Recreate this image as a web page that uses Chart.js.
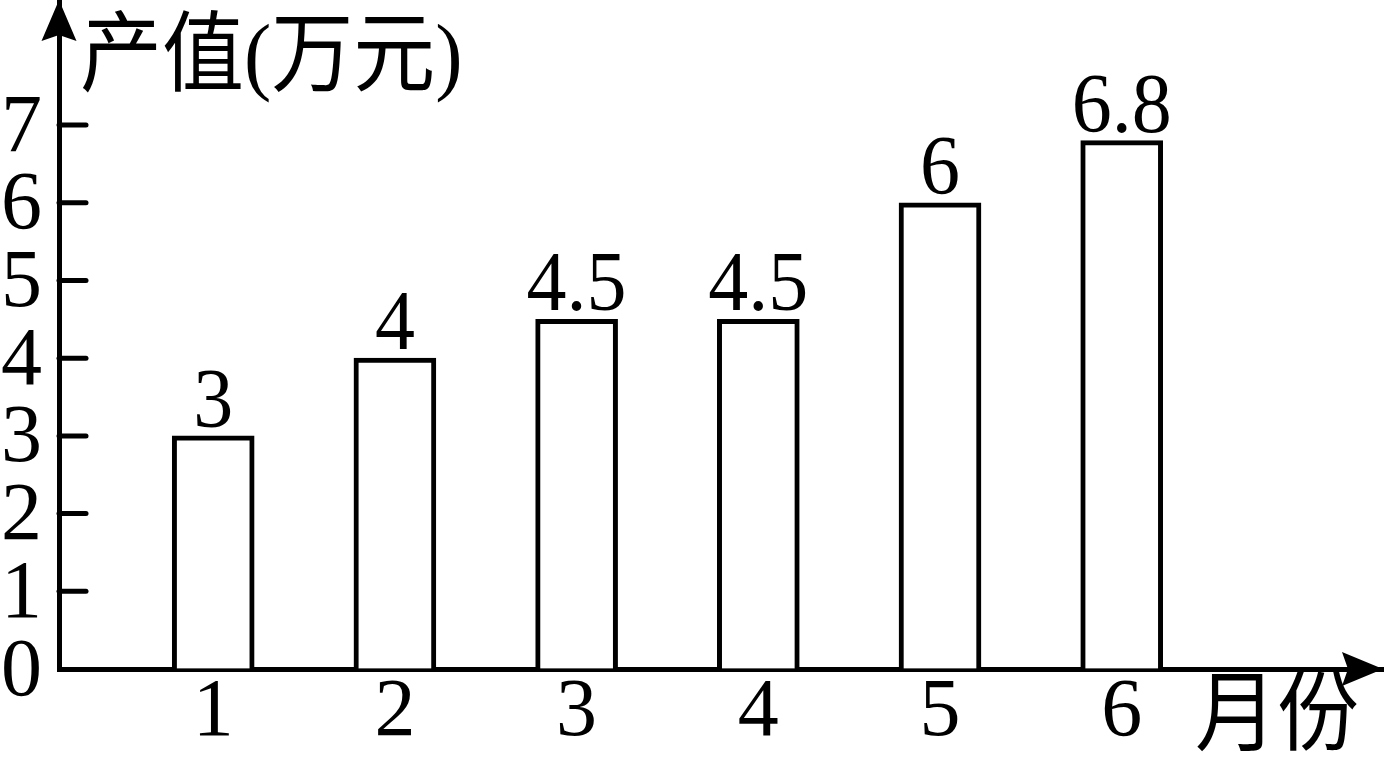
<!DOCTYPE html>
<html><head><meta charset="utf-8">
<script src="https://cdn.jsdelivr.net/npm/chart.js@4.4.0/dist/chart.umd.min.js"></script>
<style>html,body{margin:0;padding:0;background:#fff;overflow:hidden} canvas{display:block}</style>
</head><body>
<canvas id="c" width="1384" height="769"></canvas>
<script>
// ---- data ----
const months = [1, 2, 3, 4, 5, 6];
const monthLabels = ['1', '2', '3', '4', '5', '6'];
const values = [3, 4, 4.5, 4.5, 6, 6.8];
const valueLabels = ['3', '4', '4.5', '4.5', '6', '6.8'];
const yTicks = [0, 1, 2, 3, 4, 5, 6, 7];
const yTitle = '产值(万元)';
const xTitle = '月份';

const DIGIT_FONT = '"Liberation Serif", "Times New Roman", serif';
const CJK_FONT = '"Liberation Serif", "Noto Sans CJK SC", serif';
const STRETCH = 1.07;

function stretchedText(ctx, text, x, y) {
  ctx.save();
  ctx.translate(x, y);
  ctx.scale(1, STRETCH);
  ctx.fillText(text, 0, 0);
  ctx.restore();
}

const decor = {
  id: 'decor',
  afterDatasetsDraw(chart) {
    const ctx = chart.ctx;
    const meta = chart.getDatasetMeta(0);
    ctx.save();
    ctx.fillStyle = '#000';
    ctx.font = '80px ' + DIGIT_FONT;
    ctx.textAlign = 'center';
    ctx.textBaseline = 'alphabetic';
    meta.data.forEach((bar, i) => {
      stretchedText(ctx, valueLabels[i], bar.x, bar.y - 9);
    });
    ctx.restore();
  },
  afterDraw(chart) {
    const ctx = chart.ctx;
    const a = chart.chartArea;
    const ys = chart.scales.y;
    ctx.save();
    ctx.strokeStyle = '#000';
    ctx.fillStyle = '#000';
    // y tick marks (inside)
    ctx.lineWidth = 5;
    ctx.lineCap = 'round';
    ys.ticks.forEach(t => {
      if (t.value === 0) return;
      const py = ys.getPixelForValue(t.value);
      ctx.beginPath();
      ctx.moveTo(a.left, py);
      ctx.lineTo(a.left + 27, py);
      ctx.stroke();
    });
    // y arrow
    const tx = a.left, ty = a.top - 2;
    ctx.beginPath();
    ctx.moveTo(tx, ty);
    ctx.lineTo(tx + 17.5, ty + 41);
    ctx.lineTo(tx, ty + 35);
    ctx.lineTo(tx - 17.5, ty + 41);
    ctx.closePath();
    ctx.fill();
    // x arrow
    const ax = a.right, ay = a.bottom;
    ctx.beginPath();
    ctx.moveTo(ax, ay);
    ctx.lineTo(ax - 41, ay - 17);
    ctx.lineTo(ax - 35, ay);
    ctx.lineTo(ax - 41, ay + 17);
    ctx.closePath();
    ctx.fill();
    // titles
    ctx.font = '82px ' + CJK_FONT;
    ctx.textBaseline = 'middle';
    ctx.textAlign = 'left';
    stretchedText(ctx, yTitle, 80, 61);
    stretchedText(ctx, xTitle, 1195, 720);
    ctx.restore();
  }
};

new Chart(document.getElementById('c'), {
  type: 'bar',
  data: {
    datasets: [{
      data: months.map((m, i) => ({ x: m, y: values[i] })),
      backgroundColor: '#fff',
      borderColor: '#000',
      borderWidth: 5,
      barThickness: 82
    }]
  },
  options: {
    responsive: false,
    animation: false,
    layout: { padding: { left: 0, top: 2, right: 1, bottom: 0 } },
    plugins: { legend: { display: false }, tooltip: { enabled: false } },
    scales: {
      x: {
        type: 'linear',
        offset: false,
        min: 0.1513,
        max: 7.438,
        grid: { drawOnChartArea: false, drawTicks: false, offset: false },
        border: { display: true, color: '#000', width: 5 },
        ticks: {
          includeBounds: false,
          color: '#000',
          padding: 3,
          maxRotation: 0,
          autoSkip: false,
          font: { family: DIGIT_FONT, size: 82, lineHeight: 1 },
          callback: (v) => { const i = months.indexOf(v); return i >= 0 ? monthLabels[i] : ''; }
        },
        afterBuildTicks: (s) => { s.ticks = months.map(m => ({ value: m })); },
        afterFit: (s) => { s.height = 100; s.paddingLeft = 0; s.paddingRight = 0; }
      },
      y: {
        type: 'linear',
        min: 0,
        max: 8.584,
        grid: { drawOnChartArea: false, drawTicks: false },
        border: { display: true, color: '#000', width: 5 },
        ticks: {
          color: '#000',
          padding: 17,
          labelOffset: 4,
          autoSkip: false,
          font: { family: DIGIT_FONT, size: 82, lineHeight: 1 },
          callback: (v) => String(v)
        },
        afterBuildTicks: (s) => { s.ticks = yTicks.map(v => ({ value: v })); },
        afterFit: (s) => { s.width = 59; s.paddingTop = 0; s.paddingBottom = 0; }
      }
    }
  },
  plugins: [decor]
});
</script>
</body></html>
